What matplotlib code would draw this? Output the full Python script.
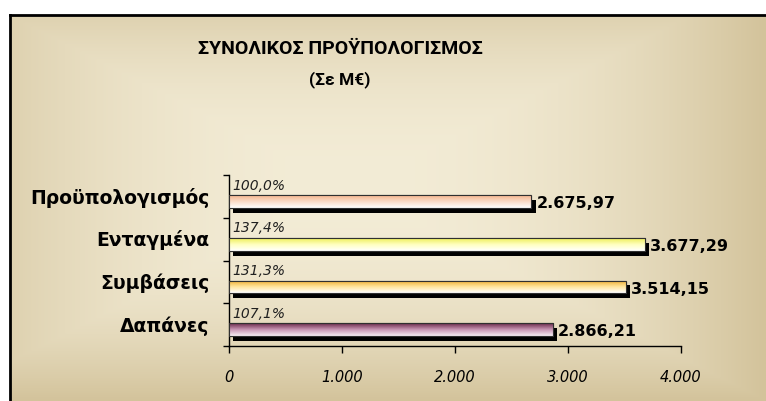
import numpy as np
import matplotlib
matplotlib.use("Agg")
import matplotlib.pyplot as plt
from matplotlib import patheffects as pe
from matplotlib.colors import to_rgb
from matplotlib.patches import Rectangle

categories = ["Προϋπολογισμός", "Ενταγμένα", "Συμβάσεις", "Δαπάνες"]
values = [2675.97, 3677.29, 3514.15, 2866.21]
value_labels = ["2.675,97", "3.677,29", "3.514,15", "2.866,21"]
pct_labels = ["100,0%", "137,4%", "131,3%", "107,1%"]
xticks = [0, 1000, 2000, 3000, 4000]
xtick_labels = ["0", "1.000", "2.000", "3.000", "4.000"]
title_line1 = "ΣΥΝΟΛΙΚΟΣ ΠΡΟΫΠΟΛΟΓΙΣΜΟΣ"
title_line2 = "(Σε Μ€)"
bar_colors = [["#f4b48c", "#fbdcc8", "#ffffff"],
              ["#eeee58", "#ffffc0", "#ffffff"],
              ["#eeaa2a", "#ffe49a", "#ffffff"],
              ["#6a2a4a", "#c896b4", "#f6eef4"]]

W, H = 766, 401
fig = plt.figure(figsize=(W / 100, H / 100), dpi=100)
fig.patch.set_facecolor("white")

# background box with gradient
bx0, by0 = 10 / W, 1 - 15 / H
bg = fig.add_axes([bx0, 0, 1 - bx0, by0], zorder=0)
nx, ny = 400, 200
xx, yy = np.meshgrid(np.linspace(0, 1, nx), np.linspace(0, 1, ny))
t = np.maximum(np.abs(xx - 0.45) / 0.55, np.abs(yy - 0.45) / 0.55)
t = np.clip(t, 0, 1) ** 2.2
dark = np.array(to_rgb("#d3c39b"))
light = np.array(to_rgb("#f3ecd6"))
img = light[None, None, :] * (1 - t[..., None]) + dark[None, None, :] * t[..., None]
bg.imshow(img, extent=[0, 1, 0, 1], aspect="auto", origin="upper")
bg.set_xlim(0, 1)
bg.set_ylim(0, 1)
bg.axis("off")
fig.add_artist(plt.Line2D([bx0, bx0], [0, by0], color="black", lw=2, transform=fig.transFigure, zorder=1))
fig.add_artist(plt.Line2D([bx0, 1], [by0, by0], color="black", lw=2, transform=fig.transFigure, zorder=1))

title_font = ["Roboto", "DejaVu Sans"]
fig.text(340 / W, 1 - 49 / H, title_line1, ha="center", va="center", fontsize=14,
         fontweight="bold", family=title_font, zorder=5)
fig.text(340 / W, 1 - 80 / H, title_line2, ha="center", va="center", fontsize=12.5,
         fontweight="bold", family=title_font, zorder=5)

ax = fig.add_axes([229 / W, 1 - 346 / H, 452 / W, (346 - 175) / H], zorder=2)
ax.patch.set_alpha(0)
n = len(categories)
ypos = np.arange(n) + 0.12
bh = 0.30
bars = ax.barh(ypos, values, height=bh, color="white", edgecolor="#303030", lw=0.8, zorder=3)
for i, b in enumerate(bars):
    b.set_path_effects([pe.SimplePatchShadow(offset=(3, -3.5), shadow_rgbFace="black", alpha=1.0), pe.Normal()])
    cols = [np.array(to_rgb(c)) for c in bar_colors[i]]
    m = 40
    s = np.linspace(0, 1, m)
    grad = np.zeros((m, 1, 3))
    for k, v in enumerate(s):
        if v < 0.5:
            c = cols[0] * (1 - v / 0.5) + cols[1] * (v / 0.5)
        else:
            c = cols[1] * (1 - (v - 0.5) / 0.5) + cols[2] * ((v - 0.5) / 0.5)
        grad[k, 0] = c
    im = ax.imshow(grad, extent=[0, values[i], ypos[i] + bh / 2, ypos[i] - bh / 2],
                   aspect="auto", origin="upper", zorder=4)
    im.set_clip_path(b)
    ax.add_patch(Rectangle((0, ypos[i] - bh / 2), values[i], bh, fill=False,
                           edgecolor="#303030", lw=0.8, zorder=5))
    ax.text(values[i] + 45, ypos[i] + 0.05, value_labels[i], ha="left", va="center",
            fontsize=11.5, fontweight="bold", zorder=6)
    ax.text(30, i - 0.25, pct_labels[i], ha="left", va="center", fontsize=10,
            fontstyle="italic", color="#202020", zorder=6)

ax.set_xlim(0, 4000)
ax.set_ylim(n - 0.5, -0.5)
ax.set_xticks(xticks)
ax.set_xticklabels(xtick_labels, fontstyle="italic", fontsize=10.5)
ax.set_yticks(np.arange(n + 1) - 0.5)
ax.set_yticklabels([])
ax.tick_params(axis="x", direction="out", length=5, width=1, pad=12, colors="black")
ax.tick_params(axis="y", direction="out", length=4, width=1)
for i, c in enumerate(categories):
    ax.text(-0.043, i + 0.03, c, transform=ax.get_yaxis_transform(), ha="right", va="center",
            fontsize=13.5, fontweight="bold")
ax.spines["top"].set_visible(False)
ax.spines["right"].set_visible(False)
ax.spines["left"].set_linewidth(1)
ax.spines["bottom"].set_linewidth(1)

fig.savefig("out.png", dpi=100)
